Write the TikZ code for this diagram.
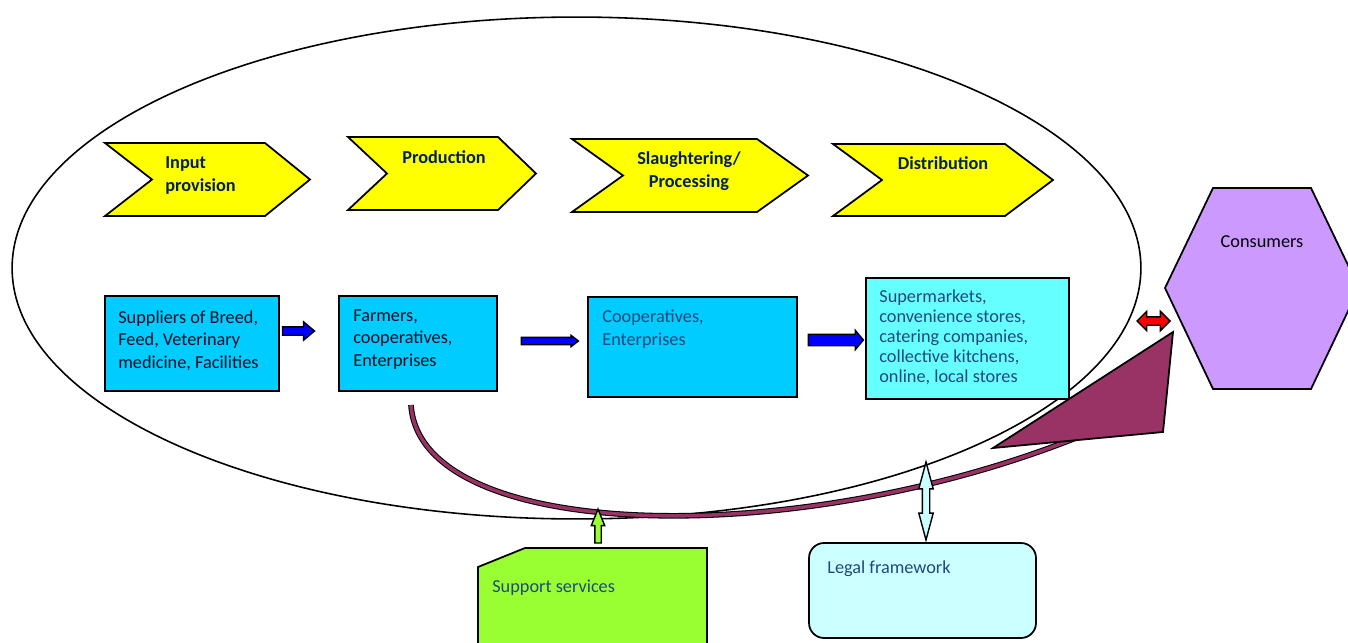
\documentclass[tikz,border=0pt]{standalone}
\usepackage{fontspec}
\setmainfont{Carlito}
\usetikzlibrary{shapes.arrows,positioning,calc}

\definecolor{chevyellow}{RGB}{255,255,0}
\definecolor{actorblue}{RGB}{0,204,255}
\definecolor{retailcyan}{RGB}{102,255,255}
\definecolor{hexviolet}{RGB}{204,153,255}
\definecolor{wedgered}{RGB}{153,51,102}
\definecolor{supgreen}{RGB}{153,255,51}
\definecolor{legalcyan}{RGB}{204,255,255}
\definecolor{navytext}{RGB}{0,32,96}
\definecolor{slatetext}{RGB}{31,73,125}
\definecolor{darktext}{RGB}{15,15,35}

\tikzset{
  chevron/.style={draw=black, line width=1pt, fill=chevyellow},
  stagetext/.style={inner sep=0pt, text=navytext, font=\bfseries\fontsize{10.4}{13.4}\selectfont},
  actorbox/.style={draw=black, line width=1pt, fill=actorblue, inner sep=0pt},
  actortext/.style={inner sep=0pt, anchor=north west, align=left, text=darktext, font=\fontsize{10.4}{13}\selectfont},
  blockarrow/.style={single arrow, draw=black, line width=0.8pt, inner xsep=0pt, single arrow head indent=0pt},
  twoarrow/.style={double arrow, draw=black, line width=0.8pt, inner xsep=0pt, double arrow head indent=0pt}
}

\begin{document}
\begin{tikzpicture}[x=0.02cm, y=-0.02cm]
        \useasboundingbox[fill=white] (0,0) rectangle (1348,642);
        % draw the big ellipse
        \draw[line width=0.9pt] (576.5,268) ellipse [x radius=11.29cm, y radius=5.02cm];
        % draw chevrons
        \foreach \xl/\xn/\xr/\xt/\yt/\yb in {105/152/265/310/143/216, 348/387/498/536/137/210, 572/623/757/808/139/212, 833/882/1005/1053/144/216}
        \draw[chevron] (\xl,\yt) -- (\xr,\yt) -- (\xt,{(\yt+\yb)/2}) -- (\xr,\yb) -- (\xl,\yb) -- (\xn,{(\yt+\yb)/2}) -- cycle;
        \node[stagetext, anchor=north west, align=left] (input) at (165,156) {Input\\provision};
        \node[stagetext, anchor=base west] (prod) at (402,163) {Production};
        \node[stagetext, anchor=north, align=center] (slaughter) at (689,151) {Slaughtering/\\Processing};
        \node[stagetext, anchor=base] (distrib) at (943,169) {Distribution};
        % draw actor boxes
        \node[actorbox, minimum width=3.48cm, minimum height=1.9cm] (supp) at (192,343.5) {};
        \node[actorbox, minimum width=3.16cm, minimum height=1.9cm] (farm) at (418,343.5) {};
        \node[actorbox, minimum width=4.18cm, minimum height=2cm] (coop) at (692.5,347) {};
        \node[actorbox, fill=retailcyan, minimum width=4.06cm, minimum height=2.42cm] (retail) at (967.5,338.5) {};
        \node[actortext] (supptext) at (118,310) {Suppliers of Breed,\\Feed, Veterinary\\medicine, Facilities};
        \node[actortext] (farmtext) at (353,309) {Farmers,\\cooperatives,\\Enterprises};
        \node[actortext, text=slatetext] (cooptext) at (602,310) {Cooperatives,\\Enterprises};
        \node[actortext, text=slatetext, font=\fontsize{10.4}{11.45}\selectfont] (retailtext) at (879,289)
          {Supermarkets,\\convenience stores,\\catering companies,\\collective kitchens,\\online, local stores};
        % draw arrows between boxes
        \node[blockarrow, fill=blue, minimum height=0.64cm, inner ysep=0.07cm, single arrow head extend=0.1cm, single arrow tip angle=80] (arr1) at (296,331) {};
        \node[blockarrow, fill=blue, minimum height=1.14cm, inner ysep=0.06cm, single arrow head extend=0.04cm, single arrow tip angle=75] (arr2) at (547.5,341) {};
        \node[blockarrow, fill=blue, minimum height=1.1cm, inner ysep=0.1cm, single arrow head extend=0.08cm, single arrow tip angle=100] (arr3) at (833.5,340) {};
        % draw consumers
        \draw[draw=black, line width=1pt, fill=hexviolet] (1213,188) -- (1311,188) -- (1359,288) -- (1311,389) -- (1213,389) -- (1165,288) -- cycle;
        \node[inner sep=0pt, anchor=base, font=\fontsize{10.4}{13}\selectfont] (consumers) at (1262,247) {Consumers};
        \node[twoarrow, fill=red, minimum height=0.66cm, inner ysep=0.07cm, double arrow head extend=0.11cm] (arr4) at (1153.5,321) {};
        % draw curved feedback line and its head
        \coordinate (loopend) at (1100,428);
        \draw[draw=black, line width=0.6pt, double=wedgered, double distance=2pt] (411,405) .. controls (420,545) and (810,552) .. (loopend);
        \draw[draw=black, line width=1pt, fill=wedgered] (1173,332) -- (1163,432) -- (993,448) -- cycle;
        % draw support services and legal framework
        \draw[draw=black, line width=1pt, fill=supgreen] (478,660) -- (478,567) -- (525,548) -- (707,548) -- (707,660);
        \node[actortext, text=slatetext] (support) at (492,580) {Support services};
        \node[blockarrow, fill=supgreen, rotate=90, minimum height=0.68cm, inner ysep=0.05cm, single arrow head extend=0.07cm, single arrow tip angle=44] (arr5) at (598,530) {};
        \node[draw=black, line width=1pt, fill=legalcyan, rounded corners=0.3cm, minimum width=4.54cm, minimum height=1.9cm] (legal) at (922.5,590.5) {};
        \node[actortext, text=slatetext] (legaltext) at (827,560) {Legal framework};
        \node[twoarrow, fill=legalcyan, rotate=90, minimum height=1.56cm, inner ysep=0.06cm, double arrow head extend=0.07cm, double arrow tip angle=30] (arr6) at (926,501) {};
\end{tikzpicture}
\end{document}
